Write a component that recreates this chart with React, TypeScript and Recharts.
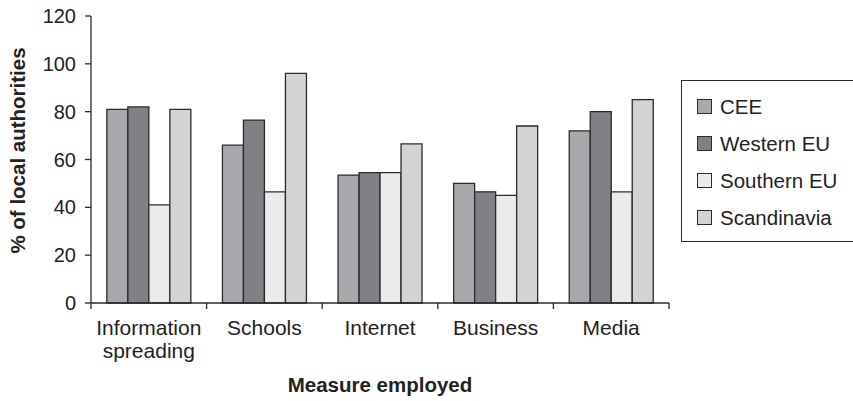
import React from 'react';
import { BarChart, Bar, XAxis, YAxis, Legend, Label } from 'recharts';

const categories = ['Information spreading', 'Schools', 'Internet', 'Business', 'Media'];
const cee = [81, 66, 53.5, 50, 72];
const westernEU = [82, 76.5, 54.5, 46.5, 80];
const southernEU = [41, 46.5, 54.5, 45, 46.5];
const scandinavia = [81, 96, 66.5, 74, 85];
const yTicks = [0, 20, 40, 60, 80, 100, 120];

const seriesNames = ['CEE', 'Western EU', 'Southern EU', 'Scandinavia'];
const seriesColors = ['#a8a9ac', '#808184', '#ebebed', '#d2d3d5'];

const data = categories.map((name, i) => ({
  name,
  cee: cee[i],
  western: westernEU[i],
  southern: southernEU[i],
  scandinavia: scandinavia[i],
}));

const FONT = '"Liberation Sans", Arial, Helvetica, sans-serif';
const INK = '#2b2b2b';
const TICK_SIZE = 6;
const TICK_MARGIN = 4;

// Category labels, with tick marks drawn on the band boundaries.
function CategoryTick(props: any) {
  const { x, y, payload, index, visibleTicksCount } = props;
  const half = payload?.offset ?? 0;
  const axisY = y - TICK_SIZE - TICK_MARGIN;
  const lines = String(payload.value).split(' ');
  return (
    <g>
      <line x1={x - half} x2={x - half} y1={axisY} y2={axisY + TICK_SIZE} stroke={INK} strokeWidth={1.3} />
      {index === visibleTicksCount - 1 && (
        <line x1={x + half} x2={x + half} y1={axisY} y2={axisY + TICK_SIZE} stroke={INK} strokeWidth={1.3} />
      )}
      <text x={x} y={y} textAnchor="middle" fontFamily={FONT} fontSize={21} fill="#222">
        {lines.map((l, i) => (
          <tspan key={i} x={x} dy={i === 0 ? 22 : 23}>
            {l}
          </tspan>
        ))}
      </text>
    </g>
  );
}

function LegendBox(props: any) {
  const items = [...(props.payload || [])].sort(
    (a: any, b: any) => seriesNames.indexOf(a.value) - seriesNames.indexOf(b.value)
  );
  return (
    <div
      style={{
        boxSizing: 'border-box',
        width: 172,
        height: 162,
        borderTop: `1.5px solid ${INK}`,
        borderLeft: `1.5px solid ${INK}`,
        borderBottom: `1.5px solid ${INK}`,
        paddingTop: 7,
        paddingLeft: 15,
        fontFamily: FONT,
        fontSize: 20.5,
        color: '#222',
        textAlign: 'left',
      }}
    >
      {items.map((p: any) => (
        <div key={p.value} style={{ display: 'flex', alignItems: 'center', height: 37 }}>
          <span
            style={{
              display: 'inline-block',
              boxSizing: 'border-box',
              width: 15,
              height: 15,
              background: p.color,
              border: `1.3px solid ${INK}`,
              marginRight: 8,
            }}
          />
          <span>{p.value}</span>
        </div>
      ))}
    </div>
  );
}

function YTitle(props: any) {
  const { viewBox } = props;
  const cx = 17;
  const cy = viewBox.y + viewBox.height / 2 - 9;
  return (
    <text
      x={cx}
      y={cy}
      transform={`rotate(-90, ${cx}, ${cy})`}
      textAnchor="middle"
      dominantBaseline="central"
      fontFamily={FONT}
      fontSize={20.5}
      fontWeight="bold"
      fill="#222"
    >
      % of local authorities
    </text>
  );
}

export default function App() {
  return (
    <div style={{ position: 'absolute', left: 0, top: 0, width: 853, height: 401, background: '#fff' }}>
      <BarChart
        width={853}
        height={401}
        data={data}
        margin={{ top: 16, right: 184, bottom: 0, left: 0 }}
        barCategoryGap="13.7%"
        barGap={0}
      >
        <YAxis
          width={91}
          domain={[0, 120]}
          ticks={yTicks}
          interval={0}
          tickSize={TICK_SIZE}
          tickMargin={9}
          axisLine={{ stroke: INK, strokeWidth: 1.3 }}
          tickLine={{ stroke: INK, strokeWidth: 1.3 }}
          tick={{ fontFamily: FONT, fontSize: 20, fill: '#222' }}
        >
          <Label content={<YTitle />} />
        </YAxis>
        <XAxis
          dataKey="name"
          height={98}
          interval={0}
          tickSize={TICK_SIZE}
          tickMargin={TICK_MARGIN}
          tickLine={false}
          axisLine={{ stroke: INK, strokeWidth: 1.3 }}
          tick={<CategoryTick />}
        >
          <Label
            value="Measure employed"
            position="insideBottom"
            offset={9}
            style={{ fontFamily: FONT, fontSize: 20.5, fontWeight: 'bold', fill: '#222' }}
          />
        </XAxis>
        <Legend
          layout="horizontal"
          verticalAlign="middle"
          align="center"
          content={<LegendBox />}
          wrapperStyle={{ position: 'absolute', left: 681, top: 80, width: 172, height: 162 }}
        />
        <Bar dataKey="cee" name={seriesNames[0]} fill={seriesColors[0]} stroke={INK} strokeWidth={1.3} isAnimationActive={false} />
        <Bar dataKey="western" name={seriesNames[1]} fill={seriesColors[1]} stroke={INK} strokeWidth={1.3} isAnimationActive={false} />
        <Bar dataKey="southern" name={seriesNames[2]} fill={seriesColors[2]} stroke={INK} strokeWidth={1.3} isAnimationActive={false} />
        <Bar dataKey="scandinavia" name={seriesNames[3]} fill={seriesColors[3]} stroke={INK} strokeWidth={1.3} isAnimationActive={false} />
      </BarChart>
    </div>
  );
}
